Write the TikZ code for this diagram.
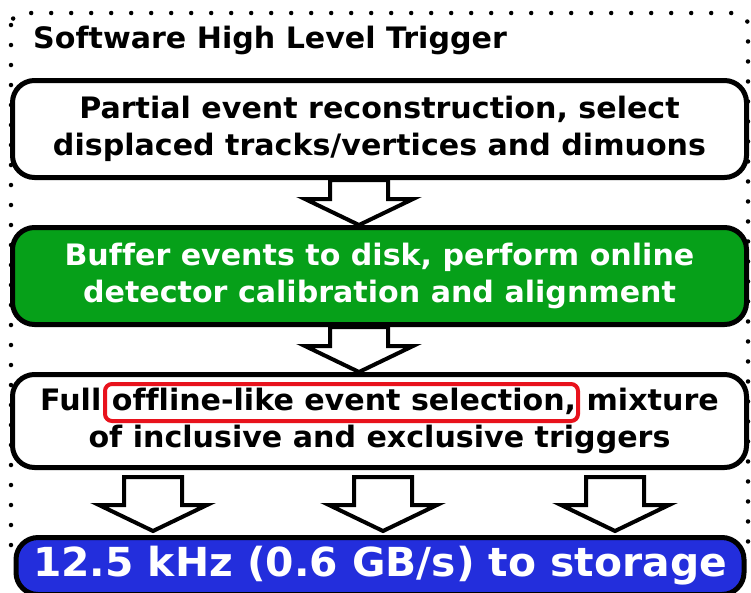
\documentclass[tikz,border=0pt]{standalone}
\usepackage{fontspec}
\usetikzlibrary{calc}
\newfontfamily\hltfont{DejaVu Sans}[FakeStretch=1.02, Ligatures=NoCommon]
\definecolor{hltgreen}{RGB}{6,160,25}
\definecolor{hltblue}{RGB}{35,46,220}
\definecolor{hltred}{RGB}{232,18,28}
\tikzset{
  stagebox/.style={draw=black, line width=5pt, rounded corners=22pt,
    minimum width=734pt, align=center, inner sep=0pt,
    font=\hltfont\bfseries\fontsize{29.5}{37}\selectfont},
  flowarr/.style={draw=black, fill=white, line width=4pt, line join=miter},
  highlight/.style={draw=hltred, line width=4pt, rounded corners=7pt},
  frame/.style={line width=4.5pt, line cap=round, dash pattern=on 0pt off 20pt},
}
% hollow block arrow: #1 = start of the shaft, #2 = tip
\newcommand{\flowarrow}[2]{%
  \draw[flowarr] ($(#1)+(-29,0)$) -- ($(#1)+(29,0)$)
    -- ($(#1 |- #2)+(29,-26)$) -- ($(#2)+(54,-26)$) -- (#2)
    -- ($(#2)+(-54,-26)$) -- ($(#1 |- #2)+(-29,-26)$) -- cycle;}
\begin{document}
\begin{tikzpicture}[x=1pt, y=-1pt]
  \useasboundingbox (0,0) rectangle (751,592);

  % dotted outline of the HLT stage
  \draw[frame, rounded corners=12pt] (11,13) rectangle (748,560);
  \node[anchor=base west, inner sep=0pt,
        font=\hltfont\bfseries\fontsize{29.5}{34}\selectfont] (title) at (33,48)
        {Software High Level Trigger};

  % processing steps
  \node[stagebox, fill=white, minimum height=97pt] (s1) at (379.5,129)
    {Partial event reconstruction, select\\displaced tracks/vertices and dimuons};
  \node[stagebox, fill=hltgreen, text=white, minimum height=97pt] (s2) at (379.5,276)
    {Buffer events to disk, perform online\\detector calibration and alignment};
  \node[stagebox, fill=white, minimum height=93pt] (s3) at (379.5,421)
    {Full offline-like event selection, mixture\\of inclusive and exclusive triggers};
  \node[highlight, minimum width=473pt, minimum height=37pt] (hl) at (341.5,402.5) {};

  \node[stagebox, fill=hltblue, text=white, minimum width=728pt, minimum height=57pt,
        font=\hltfont\bfseries\fontsize{40}{46}\selectfont] (out) at (380,566)
    {12.5 kHz (0.6 GB/s) to storage};

  % arrow anchor points
  \path (s1.south) ++(-20.5,0) coordinate (a1);
  \path (s2.north) ++(-20.5,0) coordinate (t1);
  \path (s2.south) ++(-20.5,0) coordinate (a2);
  \path (s3.north) ++(-20.5,0) coordinate (t2);
  \path (s3.south) ++(-226.5,7) coordinate (a3);
  \path (s3.south) ++(3.5,7) coordinate (a4);
  \path (s3.south) ++(235.5,7) coordinate (a5);
  \path (out.north) ++(-227,-4) coordinate (t3);
  \path (out.north) ++(3,-4) coordinate (t4);
  \path (out.north) ++(235,-4) coordinate (t5);

  \flowarrow{a1}{t1}
  \flowarrow{a2}{t2}
  \flowarrow{a3}{t3}
  \flowarrow{a4}{t4}
  \flowarrow{a5}{t5}
\end{tikzpicture}
\end{document}
